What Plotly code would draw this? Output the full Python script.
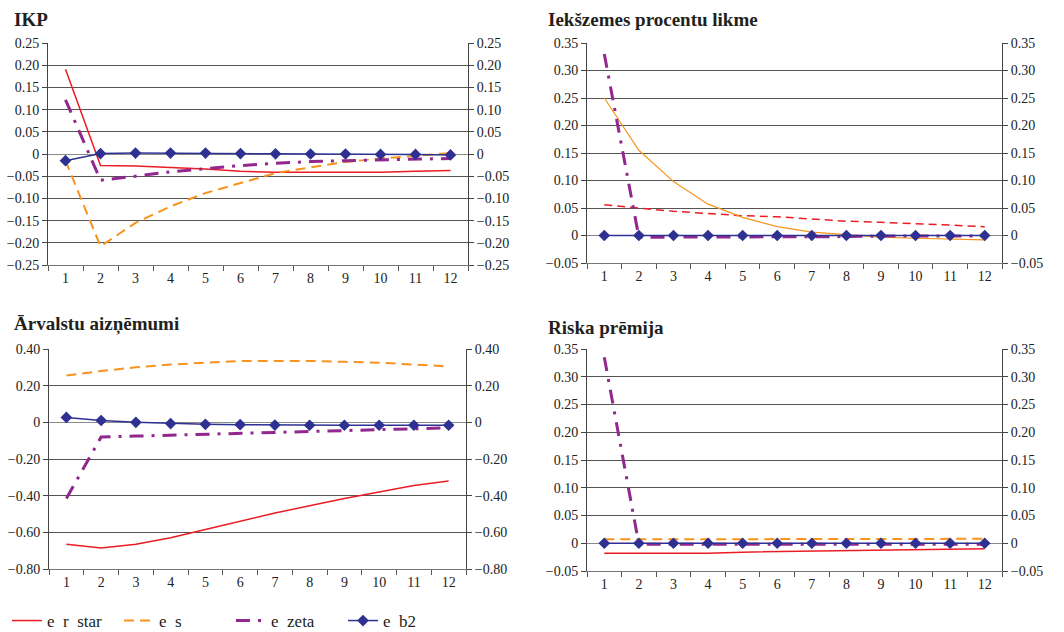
import plotly.graph_objects as go

periods = [str(i) for i in range(1, 13)]

# Panel 1: IKP
ikp_r_star = [0.191, -0.026, -0.027, -0.030, -0.034, -0.039, -0.041, -0.041, -0.041, -0.041, -0.039, -0.037]
ikp_s = [-0.015, -0.208, -0.155, -0.118, -0.088, -0.065, -0.043, -0.030, -0.018, -0.010, -0.004, 0.002]
ikp_zeta = [0.122, -0.059, -0.050, -0.040, -0.033, -0.026, -0.021, -0.017, -0.015, -0.013, -0.011, -0.010]
ikp_b2 = [-0.015, 0.001, 0.002, 0.002, 0.002, 0.001, 0.0005, 0.0, 0.0, -0.001, -0.001, -0.002]

# Panel 2: Iekšzemes procentu likme
ipl_r_star = [0.056, 0.050, 0.044, 0.040, 0.036, 0.034, 0.030, 0.026, 0.024, 0.022, 0.019, 0.016]
ipl_s = [0.250, 0.155, 0.098, 0.057, 0.033, 0.016, 0.006, 0.001, -0.003, -0.005, -0.006, -0.008]
ipl_zeta = [0.330, -0.003, -0.003, -0.003, -0.003, -0.003, -0.002, -0.002, -0.001, -0.001, -0.001, -0.001]
ipl_b2 = [0.0] * 12

# Panel 3: Ārvalstu aizņēmumi
ara_r_star = [-0.665, -0.685, -0.665, -0.630, -0.585, -0.540, -0.495, -0.455, -0.415, -0.380, -0.345, -0.320]
ara_s = [0.255, 0.280, 0.300, 0.315, 0.325, 0.335, 0.335, 0.335, 0.330, 0.325, 0.315, 0.305]
ara_zeta = [-0.415, -0.080, -0.075, -0.070, -0.065, -0.060, -0.055, -0.050, -0.045, -0.040, -0.035, -0.030]
ara_b2 = [0.027, 0.010, 0.000, -0.007, -0.011, -0.013, -0.015, -0.016, -0.016, -0.016, -0.016, -0.016]

# Panel 4: Riska prēmija
rp_r_star = [-0.018, -0.018, -0.018, -0.018, -0.016, -0.015, -0.015, -0.013, -0.012, -0.012, -0.010, -0.010]
rp_s = [0.007, 0.007, 0.007, 0.008, 0.008, 0.008, 0.008, 0.008, 0.008, 0.008, 0.008, 0.008]
rp_zeta = [0.335, -0.002, -0.002, -0.002, -0.002, -0.002, -0.002, -0.002, -0.002, -0.002, -0.002, -0.002]
rp_b2 = [0.0] * 12

series_names = ["e  r  star", "e  s", "e  zeta", "e  b2"]
panel_titles = ["IKP", "Iekšzemes procentu likme", "Ārvalstu aizņēmumi", "Riska prēmija"]

ticks_a = [-0.25, -0.20, -0.15, -0.10, -0.05, 0, 0.05, 0.10, 0.15, 0.20, 0.25]
labels_a = ["−0.25", "−0.20", "−0.15", "−0.10", "−0.05", "0", "0.05", "0.10", "0.15", "0.20", "0.25"]
ticks_b = [-0.05, 0, 0.05, 0.10, 0.15, 0.20, 0.25, 0.30, 0.35]
labels_b = ["−0.05", "0", "0.05", "0.10", "0.15", "0.20", "0.25", "0.30", "0.35"]
ticks_c = [-0.80, -0.60, -0.40, -0.20, 0, 0.20, 0.40]
labels_c = ["−0.80", "−0.60", "−0.40", "−0.20", "0", "0.20", "0.40"]

RED = "#ec1c24"
ORANGE = "#f7941d"
PURPLE = "#92278f"
BLUE = "#2e3192"
FONT = "Times New Roman, Liberation Serif, DejaVu Serif, serif"

panels = [
    dict(data=[ikp_r_star, ikp_s, ikp_zeta, ikp_b2], ticks=ticks_a, labels=labels_a,
         rng=[-0.25, 0.25], x=[48, 468], y=[43, 265], title_xy=(12, 19), swap=False),
    dict(data=[ipl_r_star, ipl_s, ipl_zeta, ipl_b2], ticks=ticks_b, labels=labels_b,
         rng=[-0.05, 0.35], x=[587, 1002], y=[43, 263], title_xy=(546, 19), swap=True),
    dict(data=[ara_r_star, ara_s, ara_zeta, ara_b2], ticks=ticks_c, labels=labels_c,
         rng=[-0.80, 0.40], x=[49, 466], y=[349, 569], title_xy=(12, 324), swap=False),
    dict(data=[rp_r_star, rp_s, rp_zeta, rp_b2], ticks=ticks_b, labels=labels_b,
         rng=[-0.05, 0.35], x=[587, 1002], y=[349, 571], title_xy=(546, 327), swap=False),
]

W, H = 1064, 632
fig = go.Figure()
layout = {}
annotations = []

for i, p in enumerate(panels, start=1):
    xa = "x" if i == 1 else f"x{i}"
    ya = "y" if i == 1 else f"y{i}"
    red_line = dict(color=RED, width=1.5, dash="8px,5px" if p["swap"] else "solid")
    orange_line = dict(color=ORANGE, width=1.2 if p["swap"] else 2,
                       dash="solid" if p["swap"] else "10px,6px")
    styles = [
        dict(mode="lines", line=red_line),
        dict(mode="lines", line=orange_line),
        dict(mode="lines", line=dict(color=PURPLE, width=3, dash="14px,8px,3px,8px")),
        dict(mode="lines+markers", line=dict(color=BLUE, width=1.5),
             marker=dict(symbol="diamond", size=9, color=BLUE)),
    ]
    for name, vals, st in zip(series_names, p["data"], styles):
        fig.add_trace(go.Scatter(x=periods, y=vals, name=name, xaxis=xa, yaxis=ya,
                                 showlegend=(i == 1), **st))
    x0, x1 = p["x"]
    y0, y1 = p["y"]
    xd = [x0 / W, x1 / W]
    yd = [1 - y1 / H, 1 - y0 / H]
    layout[f"xaxis{'' if i == 1 else i}"] = dict(
        domain=xd, anchor=ya, type="category", tickson="boundaries", ticks="outside",
        ticklen=5, tickcolor="#555", showline=True, linecolor="#777", linewidth=1,
        showgrid=False, tickfont=dict(family=FONT, size=14, color="#222"),
        range=[-0.5, 11.5], fixedrange=True, automargin=False)
    axis_common = dict(range=p["rng"], tickvals=p["ticks"], ticktext=p["labels"],
                       ticks="outside", ticklen=5, tickcolor="#444", showline=True,
                       linecolor="#444", linewidth=1, automargin=False,
                       tickfont=dict(family=FONT, size=14, color="#222"), fixedrange=True)
    layout[f"yaxis{'' if i == 1 else i}"] = dict(
        domain=yd, anchor=xa, showgrid=True, gridcolor="#555", gridwidth=1,
        zeroline=True, zerolinecolor="#8a8a8a", zerolinewidth=1.2, **axis_common)
    layout[f"yaxis{i + 4}"] = dict(
        overlaying=ya, anchor=xa, side="right", showgrid=False, zeroline=False, **axis_common)
    tx, ty = p["title_xy"]
    annotations.append(dict(text=f"<b>{panel_titles[i - 1]}</b>", x=tx / W, y=1 - ty / H,
                            xref="paper", yref="paper", xanchor="left", yanchor="middle",
                            showarrow=False, font=dict(family=FONT, size=19, color="#231f20")))

# anchor traces for right axes (invisible)
for i, p in enumerate(panels, start=1):
    xa = "x" if i == 1 else f"x{i}"
    fig.add_trace(go.Scatter(x=periods, y=p["data"][3], xaxis=xa, yaxis=f"y{i + 4}",
                             mode="lines", line=dict(width=0), opacity=0, showlegend=False,
                             hoverinfo="skip"))

fig.update_layout(
    width=W, height=H, margin=dict(l=0, r=0, t=0, b=0, autoexpand=False),
    paper_bgcolor="white", plot_bgcolor="white",
    font=dict(family=FONT),
    annotations=annotations,
    legend=dict(orientation="h", x=7 / W, y=1 - 621 / H, xanchor="left", yanchor="middle",
                font=dict(family=FONT, size=17, color="#231f20"), itemwidth=30,
                entrywidth=67, entrywidthmode="pixels", tracegroupgap=0),
    **layout,
)

fig.write_html("out.html", config={"displayModeBar": False},
               post_script="document.body.style.margin='0';document.body.style.padding='0';")
